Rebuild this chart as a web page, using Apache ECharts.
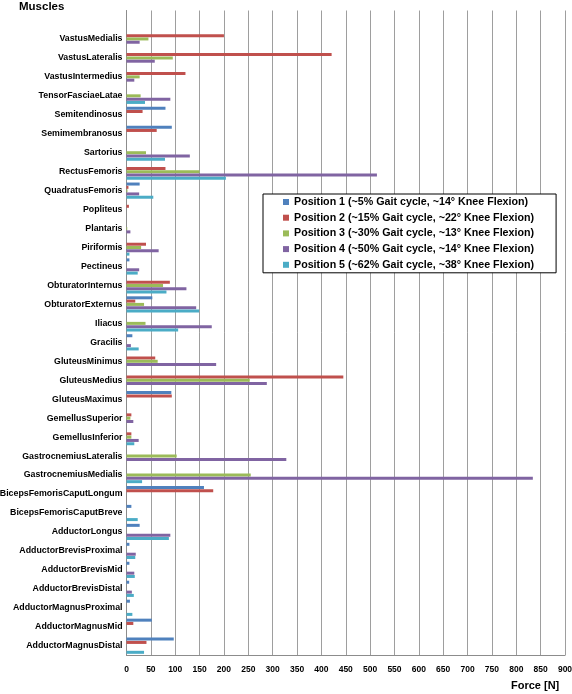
<!DOCTYPE html>
<html>
<head>
<meta charset="utf-8">
<script src="https://cdn.jsdelivr.net/npm/echarts@6/dist/echarts.min.js"></script>
<style>
html,body{margin:0;padding:0;background:#fff;}
#c{width:572px;height:694px;}
</style>
</head>
<body>
<div id="c"></div>
<script>
// Categories top to bottom (first entry is the blank row under the header)
var muscles = ['', 'VastusMedialis', 'VastusLateralis', 'VastusIntermedius', 'TensorFasciaeLatae',
  'Semitendinosus', 'Semimembranosus', 'Sartorius', 'RectusFemoris', 'QuadratusFemoris',
  'Popliteus', 'Plantaris', 'Piriformis', 'Pectineus', 'ObturatorInternus', 'ObturatorExternus',
  'Iliacus', 'Gracilis', 'GluteusMinimus', 'GluteusMedius', 'GluteusMaximus', 'GemellusSuperior',
  'GemellusInferior', 'GastrocnemiusLateralis', 'GastrocnemiusMedialis', 'BicepsFemorisCaputLongum',
  'BicepsFemorisCaputBreve', 'AdductorLongus', 'AdductorBrevisProximal', 'AdductorBrevisMid',
  'AdductorBrevisDistal', 'AdductorMagnusProximal', 'AdductorMagnusMid', 'AdductorMagnusDistal'];

var seriesNames = [
  'Position 1 (~5% Gait cycle, ~14\u00b0 Knee Flexion)',
  'Position 2 (~15% Gait cycle, ~22\u00b0 Knee Flexion)',
  'Position 3 (~30% Gait cycle, ~13\u00b0 Knee Flexion)',
  'Position 4 (~50% Gait cycle, ~14\u00b0 Knee Flexion)',
  'Position 5 (~62% Gait cycle, ~38\u00b0 Knee Flexion)'
];

var position1 = [null, 0, 0, 0, 0, 80, 93, 0, 0, 27, 0, 0, 0, 6, 0, 53, 0, 12, 0, 0, 92, 0, 0, 0, 0, 159, 10, 27, 6, 6, 5.5, 7, 52, 97];
var position2 = [null, 200, 421, 121, 0, 33, 62, 0, 80, 4, 5, 0, 40, 0, 89, 18, 0, 0, 59, 445, 93, 10, 10, 0, 0, 178, 0, 0, 0, 0, 0, 0, 14, 41];
var position3 = [null, 45, 95, 27, 29, 0, 0, 40, 150, 2, 0, 1.5, 30, 0, 75, 36, 39, 0, 64, 253, 0, 8, 10, 103, 255, 0, 0, 0, 0, 0, 0, 0, 0, 0];
var position4 = [null, 27, 58, 16, 90, 0, 0, 130, 514, 26, 0, 8, 66, 26, 123, 143, 175, 9, 184, 288, 0, 14, 25, 328, 834, 0, 0, 90, 19, 16, 11, 0, 0, 0];
var position5 = [null, 0, 0, 0, 38, 0, 0, 79, 204, 55, 0, 0, 6, 23, 82, 149, 106, 25, 0, 0, 0, 0, 16, 0, 32, 0, 23, 87, 18, 17, 15, 12, 0, 36];

var xTicks = {min: 0, max: 900, interval: 50};
var colors = ['#4F81BD', '#C0504D', '#9BBB59', '#8064A2', '#4BACC6'];

var FONT = "'Liberation Sans', Arial, sans-serif";
var values = [position1, position2, position3, position4, position5];

var chart = echarts.init(document.getElementById('c'), null, {renderer: 'canvas'});
chart.setOption({
  animation: false,
  color: colors,
  textStyle: {fontFamily: FONT},
  title: [
    {text: 'Muscles', left: 19, top: 1, padding: 0, textStyle: {fontFamily: FONT, fontWeight: 'bold', fontSize: 11.5, color: '#000'}},
    {text: 'Force [N]', left: 511, top: 680, padding: 0, textStyle: {fontFamily: FONT, fontWeight: 'bold', fontSize: 11, color: '#000'}}
  ],
  grid: {left: 126.5, right: 7, top: 10.5, bottom: 38.8, containLabel: false, outerBoundsMode: 'none'},
  legend: {
    orient: 'vertical',
    left: 263, top: 194,
    padding: [1, 22, 1, 20],
    itemGap: 1.7,
    itemWidth: 6, itemHeight: 6,
    icon: 'rect',
    backgroundColor: '#fff',
    borderColor: '#000', borderWidth: 1,
    textStyle: {fontFamily: FONT, fontWeight: 'bold', fontSize: 10.7, lineHeight: 14, color: '#000'},
    data: seriesNames
  },
  xAxis: {
    type: 'value',
    min: xTicks.min, max: xTicks.max, interval: xTicks.interval,
    axisLine: {show: true, lineStyle: {color: '#8C8C8C'}},
    axisTick: {show: false},
    splitLine: {show: true, lineStyle: {color: '#9E9E9E', width: 1}},
    axisLabel: {margin: 10, fontFamily: FONT, fontWeight: 'bold', fontSize: 8.5, color: '#000'}
  },
  yAxis: {
    type: 'category',
    inverse: true,
    data: muscles,
    axisLine: {show: true, lineStyle: {color: '#8C8C8C'}},
    axisTick: {show: false},
    splitLine: {show: false},
    axisLabel: {margin: 4, fontFamily: FONT, fontWeight: 'bold', fontSize: 8.8, color: '#000', interval: 0}
  },
  series: seriesNames.map(function (n, i) {
    return {
      name: n,
      type: 'bar',
      data: values[i],
      barWidth: 3,
      barGap: '10%',
      itemStyle: {color: colors[i]}
    };
  })
});
</script>
</body>
</html>
